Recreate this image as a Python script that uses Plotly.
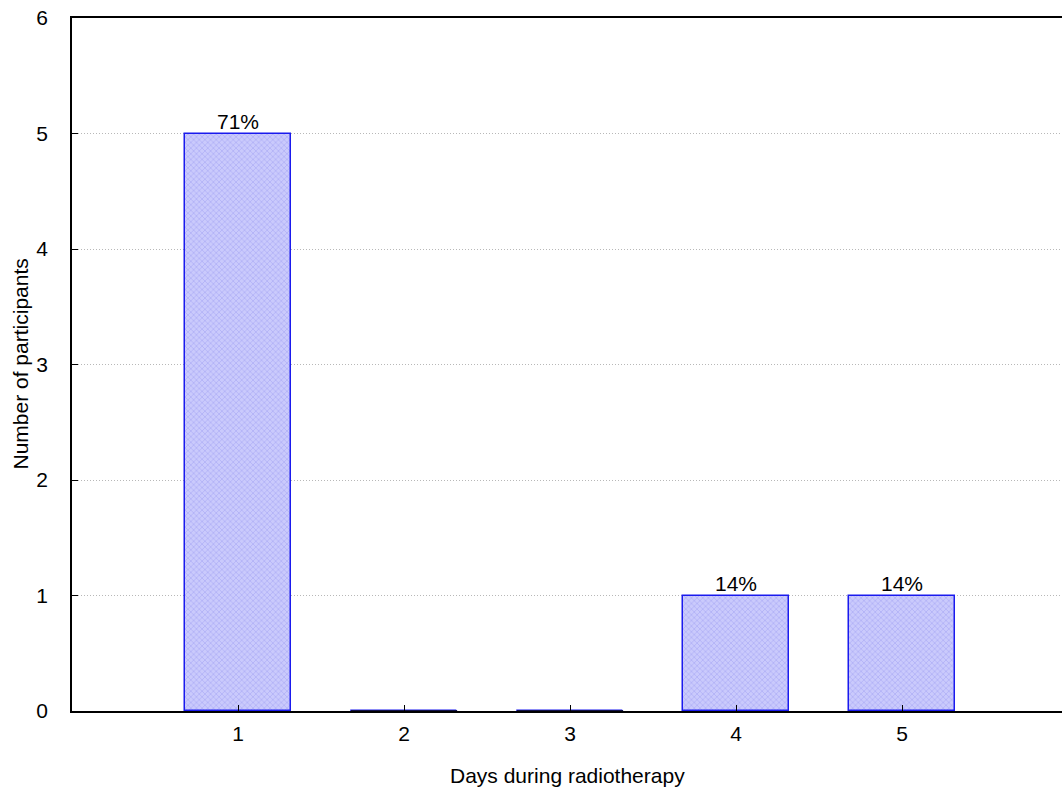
import plotly.graph_objects as go

days = [1, 2, 3, 4, 5]
counts = [5, 0, 0, 1, 1]
pct_labels = ["71%", "", "", "14%", "14%"]
y_ticks = [0, 1, 2, 3, 4, 5, 6]
x_title = "Days during radiotherapy"
y_title = "Number of participants"

BAR_W = 0.64
font = "Liberation Sans, Arial, sans-serif"

fig = go.Figure()
fig.add_trace(go.Bar(
    x=days, y=counts, width=BAR_W,
    marker=dict(
        color="#c0c0fa",
        line=dict(color="#1a1aee", width=1.5),
        pattern=dict(shape="x", size=4, solidity=0.35, fgcolor="#9494f0", bgcolor="#cacafc"),
    ),
    showlegend=False, hoverinfo="skip",
))

# zero-height bars drawn as thin outlines at y=0
for d, c in zip(days, counts):
    if c == 0:
        fig.add_trace(go.Scatter(
            x=[d - BAR_W / 2, d + BAR_W / 2], y=[c, c], mode="lines",
            line=dict(color="#10104a", width=2), showlegend=False, hoverinfo="skip",
            cliponaxis=False,
        ))

# percentage labels above bars
for d, c, t in zip(days, counts, pct_labels):
    if t:
        fig.add_annotation(x=d, y=c, text=t, showarrow=False, yanchor="bottom",
                           yshift=-1, font=dict(family=font, size=21, color="black"))

# axis titles
fig.add_annotation(xref="paper", yref="paper", x=0.5, y=0, yshift=-64,
                   text=x_title, showarrow=False, xanchor="center", yanchor="middle",
                   font=dict(family=font, size=21, color="black"))
fig.add_annotation(xref="paper", yref="paper", x=0, y=0.5, xshift=-52,
                   text=y_title, showarrow=False, textangle=-90,
                   xanchor="center", yanchor="middle",
                   font=dict(family=font, size=21, color="black"))

fig.update_layout(
    width=1062, height=787,
    margin=dict(l=72, r=0, t=18, b=76),
    paper_bgcolor="white", plot_bgcolor="white",
    font=dict(family=font, size=21, color="black"),
    bargap=0,
)
fig.update_xaxes(
    range=[0, 990 / 166], tickvals=days, ticktext=[str(d) for d in days],
    ticks="inside", ticklen=6, tickcolor="black", tickwidth=1,
    showline=True, linecolor="black", linewidth=1.5, mirror=True,
    showgrid=False, zeroline=False,
    tickfont=dict(size=21), ticklabelstandoff=3,
)
fig.update_yaxes(
    range=[0, 6], tickvals=y_ticks,
    ticks="inside", ticklen=6, tickcolor="black", tickwidth=1,
    showline=True, linecolor="black", linewidth=1.5, mirror=False,
    showgrid=True, gridcolor="#b8b8b8", griddash="1px,2px", gridwidth=1,
    zeroline=False, ticklabeloverflow="allow",
    tickfont=dict(size=21), ticklabelstandoff=18,
)

fig.write_html("out.html", config={"displayModeBar": False},
               post_script="document.body.style.margin='0';")
